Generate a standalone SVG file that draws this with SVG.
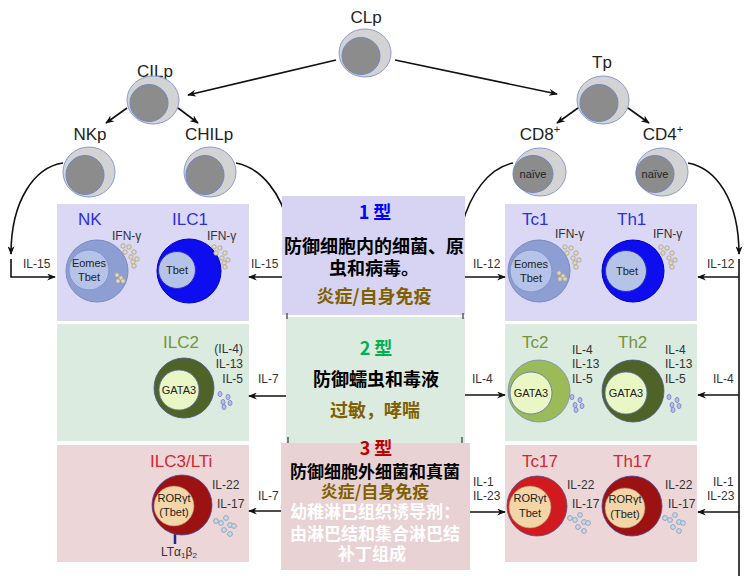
<svg xmlns="http://www.w3.org/2000/svg" width="751" height="576" viewBox="0 0 751 576">
<defs>
<marker id="ah" viewBox="0 0 10 8" refX="9" refY="4" markerWidth="9" markerHeight="7" markerUnits="userSpaceOnUse" orient="auto">
<path d="M0,0 L10,4 L0,8 L3,4 z" fill="#111"/>
</marker>
<g id="dyU">
<circle cx="0" cy="0" r="2.2"/><circle cx="6" cy="1" r="2.2"/><circle cx="2" cy="6" r="2.2"/><circle cx="11" cy="6" r="2.2"/><circle cx="8" cy="11" r="2.2"/><circle cx="14" cy="13" r="2.2"/><circle cx="10" cy="16" r="2.2"/><circle cx="11" cy="20" r="2.2"/>
</g>
<g id="dyL">
<circle cx="0" cy="0" r="2.2"/><circle cx="4" cy="3" r="2.2"/><circle cx="1" cy="6" r="2.2"/><circle cx="6" cy="6" r="2.2"/>
</g>
<g id="dp">
<ellipse cx="0" cy="0" rx="2" ry="2.6"/><ellipse cx="8" cy="3" rx="2" ry="2.6"/><ellipse cx="3" cy="8" rx="2" ry="2.6"/><ellipse cx="10" cy="9" rx="2" ry="2.6"/><ellipse cx="4" cy="13" rx="2" ry="2.6"/>
</g>
<g id="dg">
<circle cx="0" cy="3" r="2.4"/><circle cx="5" cy="5" r="2.4"/><circle cx="10" cy="0" r="2.4"/><circle cx="14" cy="7" r="2.4"/><circle cx="18" cy="8" r="2.4"/><circle cx="8" cy="12" r="2.4"/><circle cx="14" cy="16" r="2.4"/>
</g>
</defs>
<style>
.t{font-family:"Liberation Sans",Arial,sans-serif;fill:#222}
.top{font-size:17px;text-anchor:middle}
.lab{font-size:12px;fill:#333}
.in{font-size:11px;fill:#222;text-anchor:middle}
.ttl{font-size:17px}
.b1{fill:#2e2ee0}.g2{fill:#77933c}.r3{fill:#d7262e}
.cn{font-family:"Noto Sans CJK SC","Noto Sans CJK JP",sans-serif;font-weight:bold;font-size:18px;text-anchor:middle}
.c3{font-size:17px}
.con{fill:none;stroke:#111;stroke-width:1.6}
.po{fill:#d3d3d3;stroke:#8a9ccf;stroke-width:1}
.pi{fill:#8c8c8c;stroke:#7085c2;stroke-width:1}
.p1{fill:#dad8f4}.p2{fill:#dbebdf}.p3{fill:#ecd6d8}
.yd{fill:#ecdc9a;stroke:#9c9cb8;stroke-width:0.8}
.pd{fill:#b8bcea;stroke:#7f86c8;stroke-width:0.9}
.gd{fill:#c8dae6;stroke:#8aa0bc;stroke-width:0.9}
.nkO{fill:#8d9ed2;stroke:#7a8cc6;stroke-width:1}
.nkI{fill:#b5c3e8;stroke:#8193cc;stroke-width:1}
.blO{fill:#0d0df0;stroke:#0000c0;stroke-width:1}
.dgO{fill:#4f6228;stroke:#4a5a90;stroke-width:0.8}
.lgO{fill:#9bbb59;stroke:#7a8cc0;stroke-width:0.8}
.gI{fill:#e8f7c4;stroke:#5a70b0;stroke-width:0.8}
.drO{fill:#9c1212;stroke:#4a4aa0;stroke-width:0.8}
.rO{fill:#d01a1e;stroke:#505098;stroke-width:0.8}
.rI{fill:#f4d5a8;stroke:#b08060;stroke-width:0.6}
</style>
<rect width="751" height="576" fill="#ffffff"/>

<g id="panels">
<rect class="p1" x="57" y="204" width="192" height="117"/>
<rect class="p2" x="57" y="324" width="192" height="117"/>
<rect class="p3" x="57" y="445" width="192" height="117"/>
<rect class="p1" x="505" y="204" width="192" height="117"/>
<rect class="p2" x="505" y="324" width="192" height="117"/>
<rect class="p3" x="505" y="445" width="192" height="117"/>
</g>

<g id="CLp">
<text class="t top" x="366" y="23">CLp</text>
<ellipse class="po" cx="365" cy="53" rx="26" ry="24"/>
<ellipse class="pi" cx="361" cy="56" rx="19" ry="18.5"/>
</g>
<g id="CILp">
<text class="t top" x="155" y="77">CILp</text>
<ellipse class="po" cx="153" cy="100" rx="26" ry="24"/>
<ellipse class="pi" cx="149" cy="103" rx="19" ry="18.5"/>
</g>
<g id="NKp">
<text class="t top" x="90" y="140">NKp</text>
<ellipse class="po" cx="89" cy="172" rx="26" ry="25"/>
<ellipse class="pi" cx="85" cy="175" rx="19" ry="19.5"/>
</g>
<g id="CHILp">
<text class="t top" x="209" y="140">CHILp</text>
<ellipse class="po" cx="210" cy="172" rx="26" ry="25"/>
<ellipse class="pi" cx="205" cy="175" rx="19" ry="19.5"/>
</g>
<g id="Tp">
<text class="t top" x="602" y="68">Tp</text>
<ellipse class="po" cx="603" cy="100" rx="26" ry="24"/>
<ellipse class="pi" cx="599" cy="103" rx="19" ry="18.5"/>
</g>
<g id="CD8">
<text class="t top" x="540" y="140">CD8<tspan font-size="11" dy="-7">+</tspan></text>
<ellipse class="po" cx="540" cy="172" rx="26" ry="24"/>
<ellipse class="pi" cx="533" cy="174" rx="20" ry="18.5"/>
<text class="t in" x="533" y="178" font-size="10.5">naïve</text>
</g>
<g id="CD4">
<text class="t top" x="663" y="140">CD4<tspan font-size="11" dy="-7">+</tspan></text>
<ellipse class="po" cx="662" cy="172" rx="26" ry="24"/>
<ellipse class="pi" cx="655" cy="174" rx="19" ry="18.5"/>
<text class="t in" x="655" y="178" font-size="10.5">naïve</text>
</g>

<g id="NK">
<text class="t ttl b1" x="78" y="225">NK</text>
<text class="t lab" x="112" y="240" font-size="11.5">IFN-γ</text>
<circle class="nkO" cx="97" cy="271" r="31"/>
<circle class="nkI" cx="89" cy="270" r="20"/>
<text class="t in" x="89" y="267">Eomes</text>
<text class="t in" x="89" y="281">Tbet</text>
<use href="#dyU" class="yd" x="123" y="246"/>
<use href="#dyL" class="yd" x="117" y="275"/>
</g>
<g id="ILC1">
<text class="t ttl b1" x="172" y="225">ILC1</text>
<text class="t lab" x="207" y="240" font-size="11.5">IFN-γ</text>
<circle class="blO" cx="189" cy="271" r="32"/>
<circle class="nkI" cx="177" cy="270" r="18.5" style="stroke:#3030c0"/>
<text class="t in" x="177" y="274">Tbet</text>
<use href="#dyU" class="yd" x="214" y="247"/>
</g>
<g id="ILC2">
<text class="t ttl g2" x="163" y="348">ILC2</text>
<text class="t lab" x="243" y="353" text-anchor="end">(IL-4)</text>
<text class="t lab" x="243" y="368" text-anchor="end">IL-13</text>
<text class="t lab" x="243" y="383" text-anchor="end">IL-5</text>
<circle class="dgO" cx="184" cy="388" r="30"/>
<circle class="gI" cx="179" cy="390" r="20"/>
<text class="t in" x="179" y="394">GATA3</text>
<use href="#dp" class="pd" x="220" y="394"/>
</g>
<g id="ILC3">
<text class="t ttl r3" x="150" y="467">ILC3/LTi</text>
<text class="t lab" x="212" y="489">IL-22</text>
<text class="t lab" x="217" y="508">IL-17</text>
<line x1="175" y1="534" x2="175" y2="544" stroke="#1a2a8a" stroke-width="2.5"/>
<circle class="drO" cx="182" cy="505" r="30"/>
<circle class="rI" cx="174" cy="506" r="20"/>
<text class="t in" x="174" y="502">RORγt</text>
<text class="t in" x="174" y="516">(Tbet)</text>
<use href="#dg" class="gd" x="216" y="518"/>
<text class="t lab" x="161" y="556">LTα<tspan font-size="8" dy="2">1</tspan><tspan dy="-2">β</tspan><tspan font-size="8" dy="2">2</tspan></text>
</g>

<g id="Tc1">
<text class="t ttl b1" x="522" y="225">Tc1</text>
<text class="t lab" x="555" y="238" font-size="11.5">IFN-γ</text>
<circle class="nkO" cx="539" cy="271" r="31"/>
<circle class="nkI" cx="531" cy="271" r="21"/>
<text class="t in" x="531" y="268">Eomes</text>
<text class="t in" x="531" y="282">Tbet</text>
<use href="#dyU" class="yd" x="565" y="247"/>
<use href="#dyL" class="yd" x="559" y="273"/>
</g>
<g id="Th1">
<text class="t ttl b1" x="617" y="225">Th1</text>
<text class="t lab" x="653" y="238" font-size="11.5">IFN-γ</text>
<circle class="blO" cx="633" cy="271" r="31"/>
<circle class="nkI" cx="626" cy="271" r="20.5" style="stroke:#3030c0"/>
<text class="t in" x="627" y="275">Tbet</text>
<use href="#dyU" class="yd" x="661" y="247"/>
</g>
<g id="Tc2">
<text class="t ttl g2" x="522" y="348">Tc2</text>
<text class="t lab" x="572" y="354">IL-4</text>
<text class="t lab" x="572" y="368">IL-13</text>
<text class="t lab" x="572" y="383">IL-5</text>
<circle class="lgO" cx="539" cy="391" r="31"/>
<circle class="gI" cx="531" cy="393" r="21"/>
<text class="t in" x="531" y="397">GATA3</text>
<use href="#dp" class="pd" x="572" y="397"/>
</g>
<g id="Th2">
<text class="t ttl g2" x="618" y="348">Th2</text>
<text class="t lab" x="665" y="354">IL-4</text>
<text class="t lab" x="665" y="368">IL-13</text>
<text class="t lab" x="665" y="383">IL-5</text>
<circle class="dgO" cx="633" cy="391" r="31"/>
<circle class="gI" cx="626" cy="393" r="21"/>
<text class="t in" x="626" y="397">GATA3</text>
<use href="#dp" class="pd" x="669" y="397"/>
</g>
<g id="Tc17">
<text class="t ttl r3" x="522" y="467">Tc17</text>
<text class="t lab" x="567" y="489">IL-22</text>
<text class="t lab" x="572" y="508">IL-17</text>
<circle class="rO" cx="537" cy="506" r="30"/>
<circle class="rI" cx="530" cy="507" r="21"/>
<text class="t in" x="530" y="502">RORγt</text>
<text class="t in" x="530" y="517">Tbet</text>
<use href="#dg" class="gd" x="570" y="515"/>
</g>
<g id="Th17">
<text class="t ttl r3" x="613" y="467">Th17</text>
<text class="t lab" x="665" y="489">IL-22</text>
<text class="t lab" x="668" y="508">IL-17</text>
<circle class="drO" cx="632" cy="506" r="30"/>
<circle class="rI" cx="625" cy="508" r="20"/>
<text class="t in" x="625" y="503">RORγt</text>
<text class="t in" x="625" y="518">(Tbet)</text>
<use href="#dg" class="gd" x="665" y="515"/>
</g>

<g id="connectors">
<path class="con" d="M336,60 L188,95" marker-end="url(#ah)"/>
<path class="con" d="M395,60 L557,94" marker-end="url(#ah)"/>
<path class="con" d="M127,108 L106,123" marker-end="url(#ah)"/>
<path class="con" d="M178,108 L198,123" marker-end="url(#ah)"/>
<path class="con" d="M578,108 L557,123" marker-end="url(#ah)"/>
<path class="con" d="M628,108 L649,123" marker-end="url(#ah)"/>
<path class="con" d="M63,163 C35,167 11,200 11,254" marker-end="url(#ah)"/>
<path class="con" d="M11,259 L11,277 L55,277" marker-end="url(#ah)"/>
<path class="con" d="M236,163 C262,168 282,195 288,225"/>
<path class="con" d="M283,277 L249,277" marker-end="url(#ah)"/>
<path class="con" d="M287,396 L249,396" marker-end="url(#ah)"/>
<path class="con" d="M282,511 L249,511" marker-end="url(#ah)"/>
<path class="con" d="M513,163 C488,168 470,195 462,225"/>
<path class="con" d="M465,277 L505,277" marker-end="url(#ah)"/>
<path class="con" d="M465,395 L505,395" marker-end="url(#ah)"/>
<path class="con" d="M470,512 L505,512" marker-end="url(#ah)"/>
<path class="con" d="M688,163 C716,168 739,200 739,254" marker-end="url(#ah)"/>
<path class="con" d="M739,259 L739,576"/>
<path class="con" d="M739,277 L698,277" marker-end="url(#ah)"/>
<path class="con" d="M739,395 L698,395" marker-end="url(#ah)"/>
<path class="con" d="M739,512 L698,512" marker-end="url(#ah)"/>
<text class="t lab" x="23" y="268">IL-15</text>
<text class="t lab" x="251" y="268">IL-15</text>
<text class="t lab" x="258" y="383">IL-7</text>
<text class="t lab" x="258" y="500">IL-7</text>
<text class="t lab" x="473" y="268">IL-12</text>
<text class="t lab" x="472" y="383">IL-4</text>
<text class="t lab" x="473" y="486">IL-1</text>
<text class="t lab" x="473" y="500">IL-23</text>
<text class="t lab" x="707" y="268">IL-12</text>
<text class="t lab" x="713" y="383">IL-4</text>
<text class="t lab" x="713" y="486">IL-1</text>
<text class="t lab" x="707" y="500">IL-23</text>
</g>

<g id="type1">
<rect x="282" y="196" width="183" height="119" fill="#d6d3f3"/>
<text class="cn" x="375" y="219" fill="#0000ff">1 型</text>
<text class="cn" x="374" y="253" fill="#000">防御细胞内的细菌、原</text>
<text class="cn" x="374" y="275" fill="#000">虫和病毒。</text>
<text class="cn" x="374" y="303" fill="#7f6000">炎症/自身免疫</text>
</g>
<g id="type2">
<rect x="286" y="317" width="179" height="126" fill="#dcebdf"/>
<line x1="287" y1="313" x2="287" y2="319" stroke="#333" stroke-width="1.2"/>
<line x1="463" y1="313" x2="463" y2="319" stroke="#333" stroke-width="1.2"/>
<line x1="288" y1="437" x2="288" y2="444" stroke="#333" stroke-width="1.2"/>
<line x1="462" y1="437" x2="462" y2="444" stroke="#333" stroke-width="1.2"/>
<text class="cn" x="376" y="355" fill="#00b050">2 型</text>
<text class="cn" x="376" y="386" fill="#000">防御蠕虫和毒液</text>
<text class="cn" x="375" y="417" fill="#7f6000">过敏，哮喘</text>
</g>
<g id="type3">
<rect x="281" y="443" width="189" height="127" fill="#e9d2d4"/>
<text class="cn" x="376" y="455" fill="#c00000">3 型</text>
<text class="cn c3" x="375" y="478" fill="#000">防御细胞外细菌和真菌</text>
<text class="cn c3" x="375" y="498" fill="#7f6000">炎症/自身免疫</text>
<text class="cn c3" x="375" y="518" fill="#ffffff">幼稚淋巴组织诱导剂：</text>
<text class="cn c3" x="375" y="540" fill="#ffffff">由淋巴结和集合淋巴结</text>
<text class="cn c3" x="372" y="560" fill="#ffffff">补丁组成</text>
</g>
</svg>
